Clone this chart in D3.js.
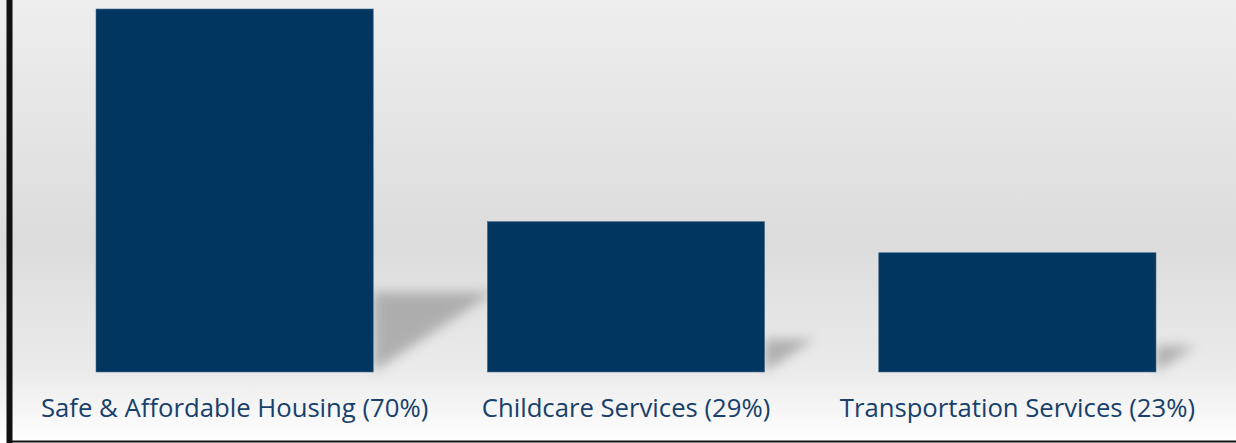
<!DOCTYPE html>
<html>
<head>
<meta charset="utf-8">
<script src="https://cdn.jsdelivr.net/npm/d3@7"></script>
<style>
  body { margin: 0; background: #fff; }
  svg { display: block; }
</style>
</head>
<body>
<script>
const categories = ['Safe & Affordable Housing', 'Childcare Services', 'Transportation Services'];
const shares = [70, 29, 23];
const labels = ['Safe & Affordable Housing (70%)', 'Childcare Services (29%)', 'Transportation Services (23%)'];

const width = 1236, height = 443;
const plot = { left: 96, right: 1156, top: 9, bottom: 372 };

const svg = d3.select('body')
  .append('svg')
  .attr('width', width)
  .attr('height', height);

const defs = svg.append('defs');

const bg = defs.append('linearGradient')
  .attr('id', 'bg')
  .attr('x1', 0).attr('y1', 0).attr('x2', 0).attr('y2', 1);
bg.append('stop').attr('offset', '0%').attr('stop-color', '#eeeeee');
bg.append('stop').attr('offset', '55%').attr('stop-color', '#dcdcdc');
bg.append('stop').attr('offset', '84%').attr('stop-color', '#ebebeb');
bg.append('stop').attr('offset', '100%').attr('stop-color', '#ffffff');

defs.append('filter')
  .attr('id', 'blur')
  .attr('x', '-50%').attr('y', '-50%').attr('width', '200%').attr('height', '200%')
  .append('feGaussianBlur')
  .attr('stdDeviation', 6);

// background
svg.append('rect')
  .attr('x', 0).attr('y', 0)
  .attr('width', width).attr('height', height)
  .attr('fill', 'url(#bg)');

const x = d3.scaleBand()
  .domain(categories)
  .range([plot.left, plot.right])
  .paddingInner(0.2916)
  .paddingOuter(0);

const y = d3.scaleLinear()
  .domain([0, 70])
  .range([plot.bottom, plot.top]);

// shadows cast to the right of each bar
svg.append('g')
  .selectAll('path')
  .data(categories)
  .join('path')
  .attr('d', (d, i) => {
    const h = plot.bottom - y(shares[i]);
    const x0 = x(d) + x.bandwidth();
    const sh = h * 0.22, sw = h * 0.33;
    return `M${x0},${plot.bottom} L${x0},${plot.bottom - sh} L${x0 + sw},${plot.bottom - sh} Z`;
  })
  .attr('fill', '#8a8a8a')
  .attr('opacity', 0.6)
  .attr('filter', 'url(#blur)');

// bars
svg.append('g')
  .selectAll('rect')
  .data(categories)
  .join('rect')
  .attr('x', d => x(d))
  .attr('y', (d, i) => y(shares[i]))
  .attr('width', x.bandwidth())
  .attr('height', (d, i) => plot.bottom - y(shares[i]))
  .attr('fill', '#00365f')
  .attr('stroke', '#4f6f8f')
  .attr('stroke-width', 0.6);

// category labels
svg.append('g')
  .selectAll('text')
  .data(categories)
  .join('text')
  .attr('x', d => x(d) + x.bandwidth() / 2)
  .attr('y', 417)
  .attr('text-anchor', 'middle')
  .attr('font-family', '"Open Sans", sans-serif')
  .attr('font-size', 25.7)
  .attr('fill', '#17406b')
  .text((d, i) => labels[i]);

// frame: left and bottom borders
svg.append('line')
  .attr('x1', 9.5).attr('x2', 9.5)
  .attr('y1', 0).attr('y2', 443)
  .attr('stroke', '#111').attr('stroke-width', 6);
svg.append('line')
  .attr('x1', 7).attr('x2', 1236)
  .attr('y1', 441.5).attr('y2', 441.5)
  .attr('stroke', '#111').attr('stroke-width', 2);
</script>
</body>
</html>
